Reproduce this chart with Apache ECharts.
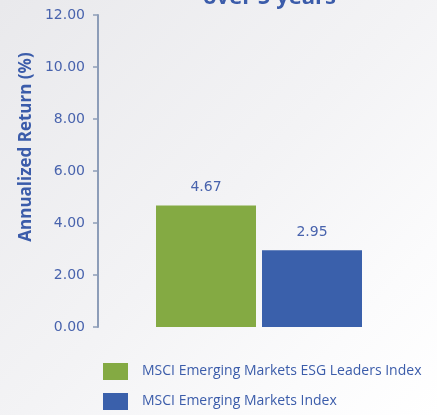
<!DOCTYPE html>
<html>
<head>
<meta charset="utf-8">
<script src="https://cdn.jsdelivr.net/npm/echarts@6/dist/echarts.min.js"></script>
<style>
  html, body { margin: 0; padding: 0; }
  #main { width: 437px; height: 415px; }
</style>
</head>
<body>
<div id="main"></div>
<script>
// 数据
const seriesNames = ['MSCI Emerging Markets ESG Leaders Index', 'MSCI Emerging Markets Index'];
const returns = [4.67, 2.95];
const barColors = ['#84aa43', '#3a60ab'];
const categories = ['5Y'];
const axisTitle = 'Annualized Return (%)';

const blue = '#3b5caa';

let chart = echarts.init(document.getElementById('main'));

const option = {
    backgroundColor: {
        type: 'linear', x: 0, y: 0, x2: 1, y2: 1,
        colorStops: [
            { offset: 0, color: '#e9e9ec' },
            { offset: 0.5, color: '#f3f3f5' },
            { offset: 0.8, color: '#fbfbfc' },
            { offset: 1, color: '#ffffff' }
        ]
    },
    textStyle: { fontFamily: 'Open Sans' },
    title: {
        text: 'over 5 years',
        left: 198,
        top: -18,
        textStyle: { color: blue, fontSize: 22, fontWeight: 'bold', fontFamily: 'Open Sans' }
    },
    // 纵轴标题
    graphic: [{
        type: 'text',
        x: 26,
        y: 147,
        rotation: Math.PI / 2,
        style: {
            text: axisTitle,
            fill: blue,
            font: 'bold 17px "Open Sans"',
            textAlign: 'center',
            textVerticalAlign: 'middle'
        }
    }],
    legend: {
        orient: 'vertical',
        left: 103,
        top: 363,
        padding: 0,
        itemWidth: 25,
        itemHeight: 17,
        itemGap: 13,
        icon: 'rect',
        textStyle: { color: blue, fontSize: 14, fontFamily: 'Open Sans', padding: [2, 0, 0, 9] },
        data: seriesNames
    },
    grid: { left: 98, right: 17, top: 15, bottom: 88 },
    xAxis: {
        type: 'category',
        data: categories,
        show: false
    },
    yAxis: {
        type: 'value',
        min: 0,
        max: 12,
        interval: 2,
        axisLine: { show: true, lineStyle: { color: '#8d9db8', width: 2 } },
        axisTick: { show: true, length: 5, lineStyle: { color: '#8d9db8', width: 1.5 } },
        axisLabel: {
            color: '#4863ad',
            fontSize: 14,
            fontFamily: 'DejaVu Sans',
            margin: 13,
            formatter: function (v) { return v.toFixed(2); }
        },
        splitLine: { show: false }
    },
    series: seriesNames.map(function (name, i) {
        return {
            name: name,
            type: 'bar',
            data: [returns[i]],
            barWidth: 100,
            barGap: '6%',
            itemStyle: { color: barColors[i] },
            label: {
                show: true,
                position: 'top',
                distance: 11,
                color: '#4863ad',
                fontSize: 14,
                fontFamily: 'DejaVu Sans',
                formatter: function (p) { return p.value.toFixed(2); }
            }
        };
    })
};

chart.setOption(option);
</script>
</body>
</html>
